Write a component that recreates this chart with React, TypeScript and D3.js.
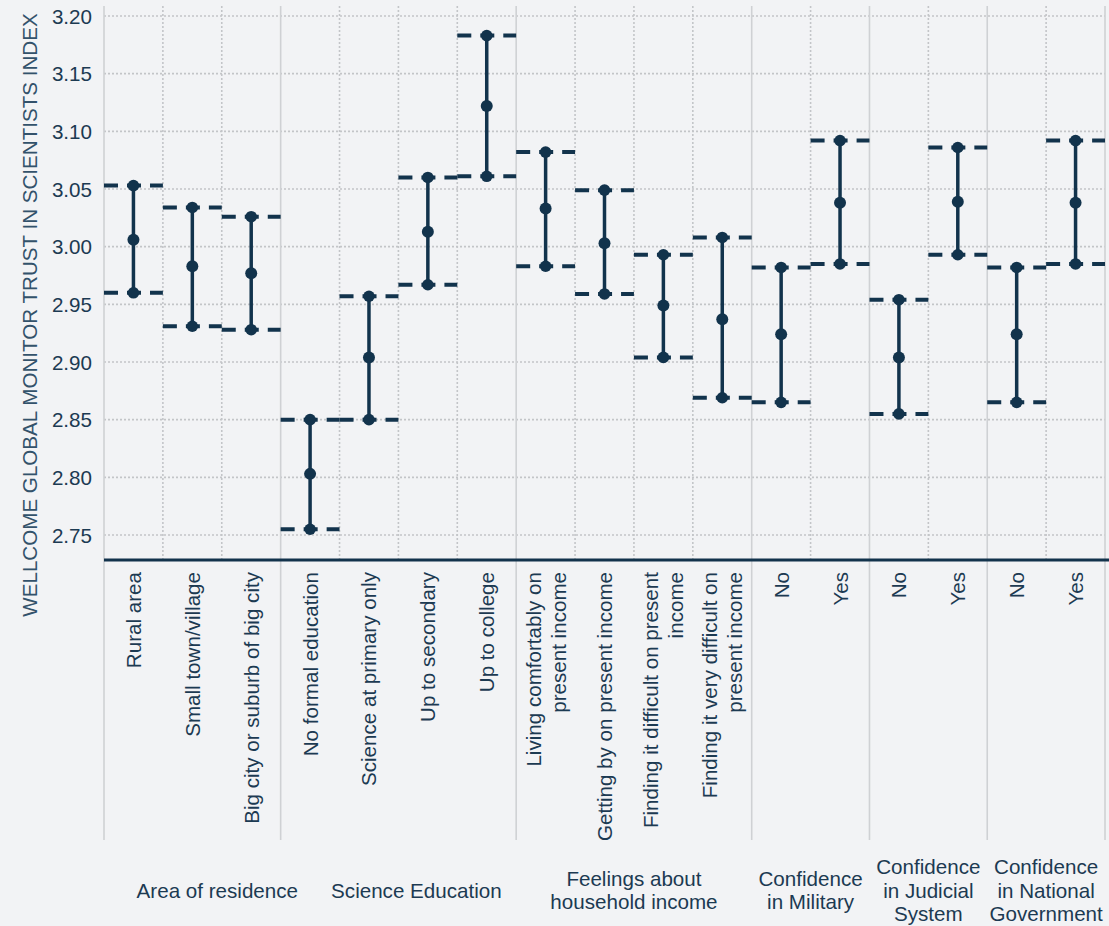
import React from "react";
import * as d3 from "d3";

// Subgroup labels ("\n" marks a line break)
const categories = [
  "Rural area",
  "Small town/village",
  "Big city or suburb of big city",
  "No formal education",
  "Science at primary only",
  "Up to secondary",
  "Up to college",
  "Living comfortably on\npresent income",
  "Getting by on present income",
  "Finding it difficult on present\nincome",
  "Finding it very difficult on\npresent income",
  "No",
  "Yes",
  "No",
  "Yes",
  "No",
  "Yes",
];

// Mean index score and 95% confidence bounds per subgroup
const meanValues = [3.006, 2.983, 2.977, 2.803, 2.904, 3.013, 3.122, 3.033, 3.003, 2.949, 2.937, 2.924, 3.038, 2.904, 3.039, 2.924, 3.038];
const upperValues = [3.053, 3.034, 3.026, 2.85, 2.957, 3.06, 3.183, 3.082, 3.049, 2.993, 3.008, 2.982, 3.092, 2.954, 3.086, 2.982, 3.092];
const lowerValues = [2.96, 2.931, 2.928, 2.755, 2.85, 2.967, 3.061, 2.983, 2.959, 2.904, 2.869, 2.865, 2.985, 2.855, 2.993, 2.865, 2.985];

// Grouping of subgroups under their survey question
const groupLabels = [
  "Area of residence",
  "Science Education",
  "Feelings about\nhousehold income",
  "Confidence\nin Military",
  "Confidence\nin Judicial\nSystem",
  "Confidence\nin National\nGovernment",
];
const groupSizes = [3, 4, 4, 2, 2, 2];

const yTicks = [2.75, 2.8, 2.85, 2.9, 2.95, 3.0, 3.05, 3.1, 3.15, 3.2];

const yTitle = "WELLCOME GLOBAL MONITOR TRUST IN SCIENTISTS INDEX";

const W = 1109;
const H = 926;
const BG = "#f2f3f5";
const INK = "#12334c";
const TEXT = "#1c3a52";
const GRID = "#c3c5c8";
const FONT = "'Liberation Sans', Arial, sans-serif";
const FS = 20.6;

export default function App() {
  const left = 104;
  const right = 1105;
  const plotTop = 6;
  const axisY = 560;
  const sepBottom = 840;

  const x = d3
    .scaleBand<number>()
    .domain(d3.range(categories.length))
    .range([left, right])
    .padding(0);
  const bw = x.bandwidth();

  const y = d3.scaleLinear().domain([2.75, 3.2]).range([535, 16]);
  const fmt = d3.format(".2f");

  // group boundaries (in category index)
  const starts: number[] = [];
  let acc = 0;
  groupSizes.forEach((s) => {
    starts.push(acc);
    acc += s;
  });
  const groupLabelShift = [25, 18, 0, 0, 0, 0];

  const lineH = 23.5;

  return (
    <svg
      width={W}
      height={H}
      style={{ position: "absolute", left: 0, top: 0, background: BG }}
      fontFamily={FONT}
    >
      <rect x={0} y={0} width={W} height={H} fill={BG} />

      {/* horizontal gridlines */}
      {yTicks.map((t) => (
        <line
          key={"h" + t}
          x1={left}
          x2={right}
          y1={y(t)}
          y2={y(t)}
          stroke={GRID}
          strokeWidth={1.6}
          strokeDasharray="2,2"
        />
      ))}

      {/* dotted category dividers inside groups */}
      {categories.map((_, i) => {
        if (i === 0 || starts.includes(i)) return null;
        const xx = x(i)!;
        return (
          <line
            key={"v" + i}
            x1={xx}
            x2={xx}
            y1={plotTop}
            y2={axisY}
            stroke={GRID}
            strokeWidth={1.6}
            strokeDasharray="2,2"
          />
        );
      })}

      {/* solid group separators */}
      {[...starts, categories.length].map((s, i) => {
        const xx = s === categories.length ? right : x(s)!;
        return (
          <line
            key={"g" + i}
            x1={xx}
            x2={xx}
            y1={plotTop}
            y2={sepBottom}
            stroke="#cfd1d4"
            strokeWidth={1.6}
          />
        );
      })}

      {/* y tick labels */}
      {yTicks.map((t) => (
        <text
          key={"yt" + t}
          x={92}
          y={y(t)}
          textAnchor="end"
          dominantBaseline="central"
          fontSize={FS}
          fill={TEXT}
        >
          {fmt(t)}
        </text>
      ))}

      {/* y axis title */}
      <text
        transform={`translate(29,${315}) rotate(-90)`}
        textAnchor="middle"
        dominantBaseline="central"
        fontSize={FS}
        fill="#33526b"
      >
        {yTitle}
      </text>

      {/* error bars */}
      {categories.map((_, i) => {
        const x0 = x(i)!;
        const cx = x0 + bw / 2;
        const yu = y(upperValues[i]);
        const yl = y(lowerValues[i]);
        const ym = y(meanValues[i]);
        return (
          <g key={"e" + i}>
            <line x1={x0} x2={x0 + bw} y1={yu} y2={yu} stroke={INK} strokeWidth={4} strokeDasharray="14,9" />
            <line x1={x0} x2={x0 + bw} y1={yl} y2={yl} stroke={INK} strokeWidth={4} strokeDasharray="14,9" />
            <line x1={cx} x2={cx} y1={yu} y2={yl} stroke={INK} strokeWidth={3.5} />
            <circle cx={cx} cy={yu} r={5.8} fill={INK} />
            <circle cx={cx} cy={ym} r={6} fill={INK} />
            <circle cx={cx} cy={yl} r={5.8} fill={INK} />
          </g>
        );
      })}

      {/* x axis line */}
      <line x1={left} x2={W} y1={axisY} y2={axisY} stroke={INK} strokeWidth={3.2} />

      {/* category labels */}
      {categories.map((c, i) => {
        const lines = c.split("\n");
        const cx = x(i)! + bw / 2;
        return (
          <g key={"c" + i}>
            {lines.map((ln, k) => {
              const off = (k - (lines.length - 1) / 2) * 25;
              return (
                <text
                  key={k}
                  transform={`translate(${cx + off},572) rotate(-90)`}
                  textAnchor="end"
                  dominantBaseline="central"
                  fontSize={FS}
                  fill={TEXT}
                >
                  {ln}
                </text>
              );
            })}
          </g>
        );
      })}

      {/* group labels */}
      {groupLabels.map((g, gi) => {
        const s = starts[gi];
        const e = s + groupSizes[gi];
        const x0 = x(s)!;
        const x1 = e === categories.length ? right : x(e)!;
        const cx = (x0 + x1) / 2 + groupLabelShift[gi];
        const lines = g.split("\n");
        return (
          <text
            key={"gl" + gi}
            x={cx}
            textAnchor="middle"
            fontSize={FS}
            fill={TEXT}
          >
            {lines.map((ln, k) => (
              <tspan
                key={k}
                x={cx}
                y={890 + (k - (lines.length - 1) / 2) * lineH}
                dominantBaseline="central"
              >
                {ln}
              </tspan>
            ))}
          </text>
        );
      })}
    </svg>
  );
}
